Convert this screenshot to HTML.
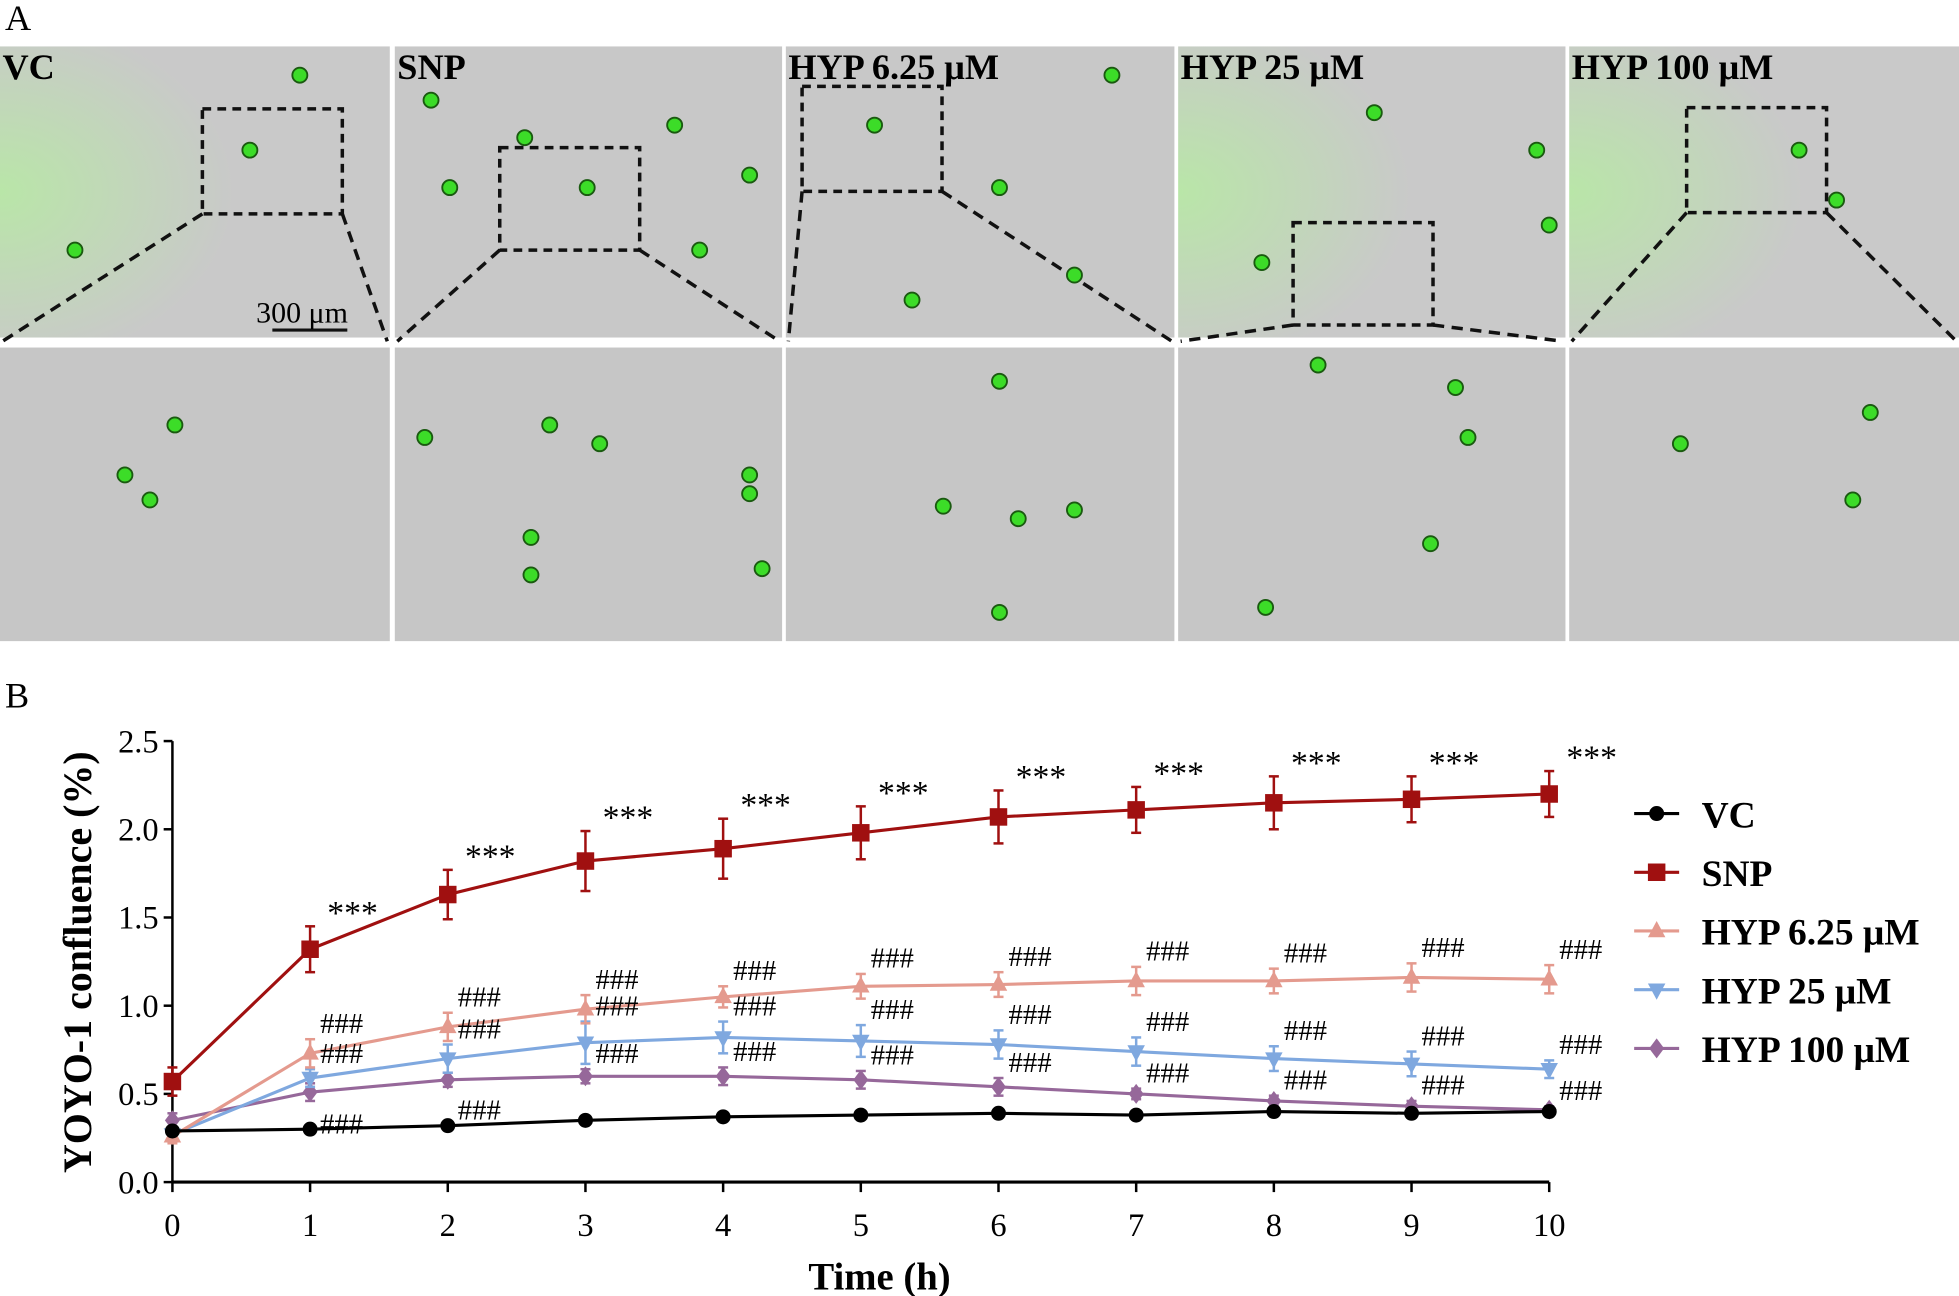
<!DOCTYPE html>
<html><head><meta charset="utf-8"><style>
html,body{margin:0;padding:0;background:#fff;}
svg{display:block;font-family:"Liberation Serif",serif;}
</style></head><body>
<svg id="fig" width="1959" height="1296" viewBox="0 0 1568 1037" xmlns="http://www.w3.org/2000/svg">
<defs>
<radialGradient id="gL" cx="0" cy="0.5" r="0.6"><stop offset="0" stop-color="#b9e6a8"/><stop offset="1" stop-color="#c9c9c9"/></radialGradient>
</defs>
<text x="4" y="24" font-size="29">A</text>
<text x="4" y="566" font-size="29">B</text>
<g id="panelA"></g>
<g id="chart"></g>
</svg>
<script>
const NS="http://www.w3.org/2000/svg";
function mk(tag,attrs,parent,txt){const e=document.createElementNS(NS,tag);for(const k in attrs)e.setAttribute(k,attrs[k]);if(txt!==undefined)e.textContent=txt;parent.appendChild(e);return e;}

// ---------- Panel A ----------
const A=document.getElementById('panelA');
const panelNames=["VC","SNP","HYP 6.25 μM","HYP 25 μM","HYP 100 μM"];
const colX=[0,316,629,943,1256];
const colW=[312,310,311,310,312];
const boxes=[[162,87,112,84],[400,118,112,82],[642,69,112,84],[1035,178,112,82],[1350,86,112,84]];
panelNames.forEach((n,i)=>{
  const top=mk('rect',{x:colX[i],y:37,width:colW[i],height:233,fill:(i==0||i==3||i==4)?'url(#gL)':'#c8c8c8'},A);
  
  
  const bot=mk('rect',{x:colX[i],y:278,width:colW[i],height:235,fill:'#c6c6c6'},A);
  
  
  const t=mk('text',{x:colX[i]+2,y:63,'font-size':29,'font-weight':'bold'},A,n);
  
  
  const b=boxes[i];
  const r=mk('rect',{x:b[0],y:b[1],width:b[2],height:b[3],fill:'none',stroke:'#111','stroke-width':2.8,'stroke-dasharray':'7,5'},A);
  
  
  mk('line',{x1:b[0],y1:b[1]+b[3],x2:colX[i]+2,y2:273,stroke:'#111','stroke-width':2.8,'stroke-dasharray':'9,6'},A);
  mk('line',{x1:b[0]+b[2],y1:b[1]+b[3],x2:colX[i]+colW[i]-2,y2:273,stroke:'#111','stroke-width':2.8,'stroke-dasharray':'9,6'},A);
});
const seeds=[[60,200],[200,120],[240,60],[345,80],[360,150],[420,110],[470,150],[540,100],[560,200],[600,140],[700,100],[730,240],[800,150],[860,220],[890,60],[1010,210],[1100,90],[1230,120],[1240,180],[1440,120],[1470,160],
[140,340],[100,380],[120,400],[340,350],[440,340],[480,355],[600,380],[600,395],[425,430],[425,460],[610,455],[800,305],[755,405],[815,415],[860,408],[800,490],[1055,292],[1165,310],[1175,350],[1145,435],[1013,486],[1497,330],[1345,355],[1483,400]];
seeds.forEach(p=>{const c=mk('circle',{cx:p[0],cy:p[1],r:6,fill:'#3cdc28',stroke:'#1a5a10','stroke-width':1.5},A);});
mk('line',{x1:218,y1:264,x2:278,y2:264,stroke:'#111','stroke-width':2.5},A);
const sb=mk('text',{x:205,y:258,'font-size':24},A,'300 μm');



// ---------- Chart ----------
const timeCats=[0,1,2,3,4,5,6,7,8,9,10];
const seriesNames=["VC","SNP","HYP 6.25 μM","HYP 25 μM","HYP 100 μM"];
const vcVals=[0.29,0.30,0.32,0.35,0.37,0.38,0.39,0.38,0.40,0.39,0.40];
const vcErr=[0.02,0.02,0.02,0.02,0.02,0.02,0.02,0.02,0.02,0.02,0.02];
const snpVals=[0.57,1.32,1.63,1.82,1.89,1.98,2.07,2.11,2.15,2.17,2.20];
const snpErr=[0.08,0.13,0.14,0.17,0.17,0.15,0.15,0.13,0.15,0.13,0.13];
const h625Vals=[0.26,0.73,0.88,0.98,1.05,1.11,1.12,1.14,1.14,1.16,1.15];
const h625Err=[0.04,0.08,0.08,0.08,0.06,0.07,0.07,0.08,0.07,0.08,0.08];
const h25Vals=[0.27,0.59,0.70,0.79,0.82,0.80,0.78,0.74,0.70,0.67,0.64];
const h25Err=[0.04,0.05,0.08,0.12,0.09,0.09,0.08,0.08,0.07,0.07,0.05];
const h100Vals=[0.35,0.51,0.58,0.60,0.60,0.58,0.54,0.50,0.46,0.43,0.41];
const h100Err=[0.04,0.05,0.04,0.04,0.05,0.05,0.05,0.03,0.03,0.03,0.02];
const yTicks=[0,0.5,1.0,1.5,2.0,2.5];
const yTickLabels=["0.0","0.5","1.0","1.5","2.0","2.5"];

const C=document.getElementById('chart');
const X0=138,X1=1240,Y0=946,Y1=593;
const xs=t=>X0+(t-0)/(10-0)*(X1-X0);
const ys=v=>Y0-(v-0)/(2.5-0)*(Y0-Y1);

const ya=mk('line',{x1:X0,y1:ys(2.5),x2:X0,y2:Y0,stroke:'#000','stroke-width':2},C);

const xa=mk('line',{x1:X0,y1:Y0,x2:X1,y2:Y0,stroke:'#000','stroke-width':2.5},C);

yTicks.forEach((v,i)=>{
  mk('line',{x1:X0-7,y1:ys(v),x2:X0,y2:ys(v),stroke:'#000','stroke-width':2},C);
  const t=mk('text',{x:X0-11,y:ys(v)+9,'font-size':26,'text-anchor':'end'},C,yTickLabels[i]);
  
});
timeCats.forEach(tc=>{
  mk('line',{x1:xs(tc),y1:Y0,x2:xs(tc),y2:Y0+8,stroke:'#000','stroke-width':2},C);
  const t=mk('text',{x:xs(tc),y:989,'font-size':26,'text-anchor':'middle'},C,String(tc));
  
});
const xt=mk('text',{x:704,y:1032,'font-size':31,'font-weight':'bold','text-anchor':'middle'},C,'Time (h)');

const yt=mk('text',{x:0,y:0,'font-size':32,'font-weight':'bold','text-anchor':'middle',transform:'translate(73,770) rotate(-90)'},C,'YOYO-1 confluence (%)');


function marker(g,shape,x,y,col){
  let e;
  if(shape==='circle')e=mk('circle',{cx:x,cy:y,r:6,fill:col},g);
  else if(shape==='square')e=mk('rect',{x:x-7,y:y-7,width:14,height:14,fill:col},g);
  else if(shape==='tri')e=mk('polygon',{points:`${x},${y-8} ${x+7},${y+5} ${x-7},${y+5}`,fill:col},g);
  else if(shape==='itri')e=mk('polygon',{points:`${x},${y+8} ${x+7},${y-5} ${x-7},${y-5}`,fill:col},g);
  else e=mk('polygon',{points:`${x},${y-8} ${x+6},${y} ${x},${y+8} ${x-6},${y}`,fill:col},g);
  return e;
}
const series=[
 {vals:h100Vals,err:h100Err,col:'#96689a',shape:'diamond',name:'hyp-100'},
 {vals:h25Vals,err:h25Err,col:'#7fa8df',shape:'itri',name:'hyp-25'},
 {vals:h625Vals,err:h625Err,col:'#e49a8e',shape:'tri',name:'hyp-6-25'},
 {vals:vcVals,err:vcErr,col:'#000000',shape:'circle',name:'vc'},
 {vals:snpVals,err:snpErr,col:'#a01010',shape:'square',name:'snp'}
];
series.forEach(s=>{
  const g=mk('g',{},C);
  
  
  const pts=timeCats.map((t,i)=>xs(t)+','+ys(s.vals[i])).join(' ');
  const pl=mk('polyline',{points:pts,fill:'none',stroke:s.col,'stroke-width':2.5},g);
  
  timeCats.forEach((t,i)=>{
    const x=xs(t),hi=ys(s.vals[i]+s.err[i]),lo=ys(s.vals[i]-s.err[i]);
    mk('line',{x1:x,y1:hi,x2:x,y2:lo,stroke:s.col,'stroke-width':2},g);
    mk('line',{x1:x-4,y1:hi,x2:x+4,y2:hi,stroke:s.col,'stroke-width':2},g);
    mk('line',{x1:x-4,y1:lo,x2:x+4,y2:lo,stroke:s.col,'stroke-width':2},g);
    const m=marker(g,s.shape,x,ys(s.vals[i]),s.col);
    
    
  });
});
for(let i=1;i<timeCats.length;i++){
  const x=xs(timeCats[i]);
  const st=mk('text',{x:x+34,y:ys(snpVals[i]+snpErr[i])-2,'font-size':27,'text-anchor':'middle'},C,'***');
  
  [[h625Vals,h625Err],[h25Vals,h25Err],[h100Vals,h100Err]].forEach((p,k)=>{
    let yv=ys(p[0][i]+p[1][i])-5;
    if(k===2&&i<=2) yv=ys(p[0][i]-p[1][i])+26;
    const h=mk('text',{x:x+8,y:yv,'font-size':23},C,'###');
    
  });
}
const legCols=['#000000','#a01010','#e49a8e','#7fa8df','#96689a'];
const legShapes=['circle','square','tri','itri','diamond'];
seriesNames.forEach((n,i)=>{
  const y=651+i*47;
  const g=mk('g',{},C);
  
  
  mk('line',{x1:1308,y1:y,x2:1344,y2:y,stroke:legCols[i],'stroke-width':2.5},g);
  marker(g,legShapes[i],1326,y,legCols[i]);
  mk('text',{x:1362,y:y+11,'font-size':30,'font-weight':'bold'},g,n);
});
</script>
</body></html>
